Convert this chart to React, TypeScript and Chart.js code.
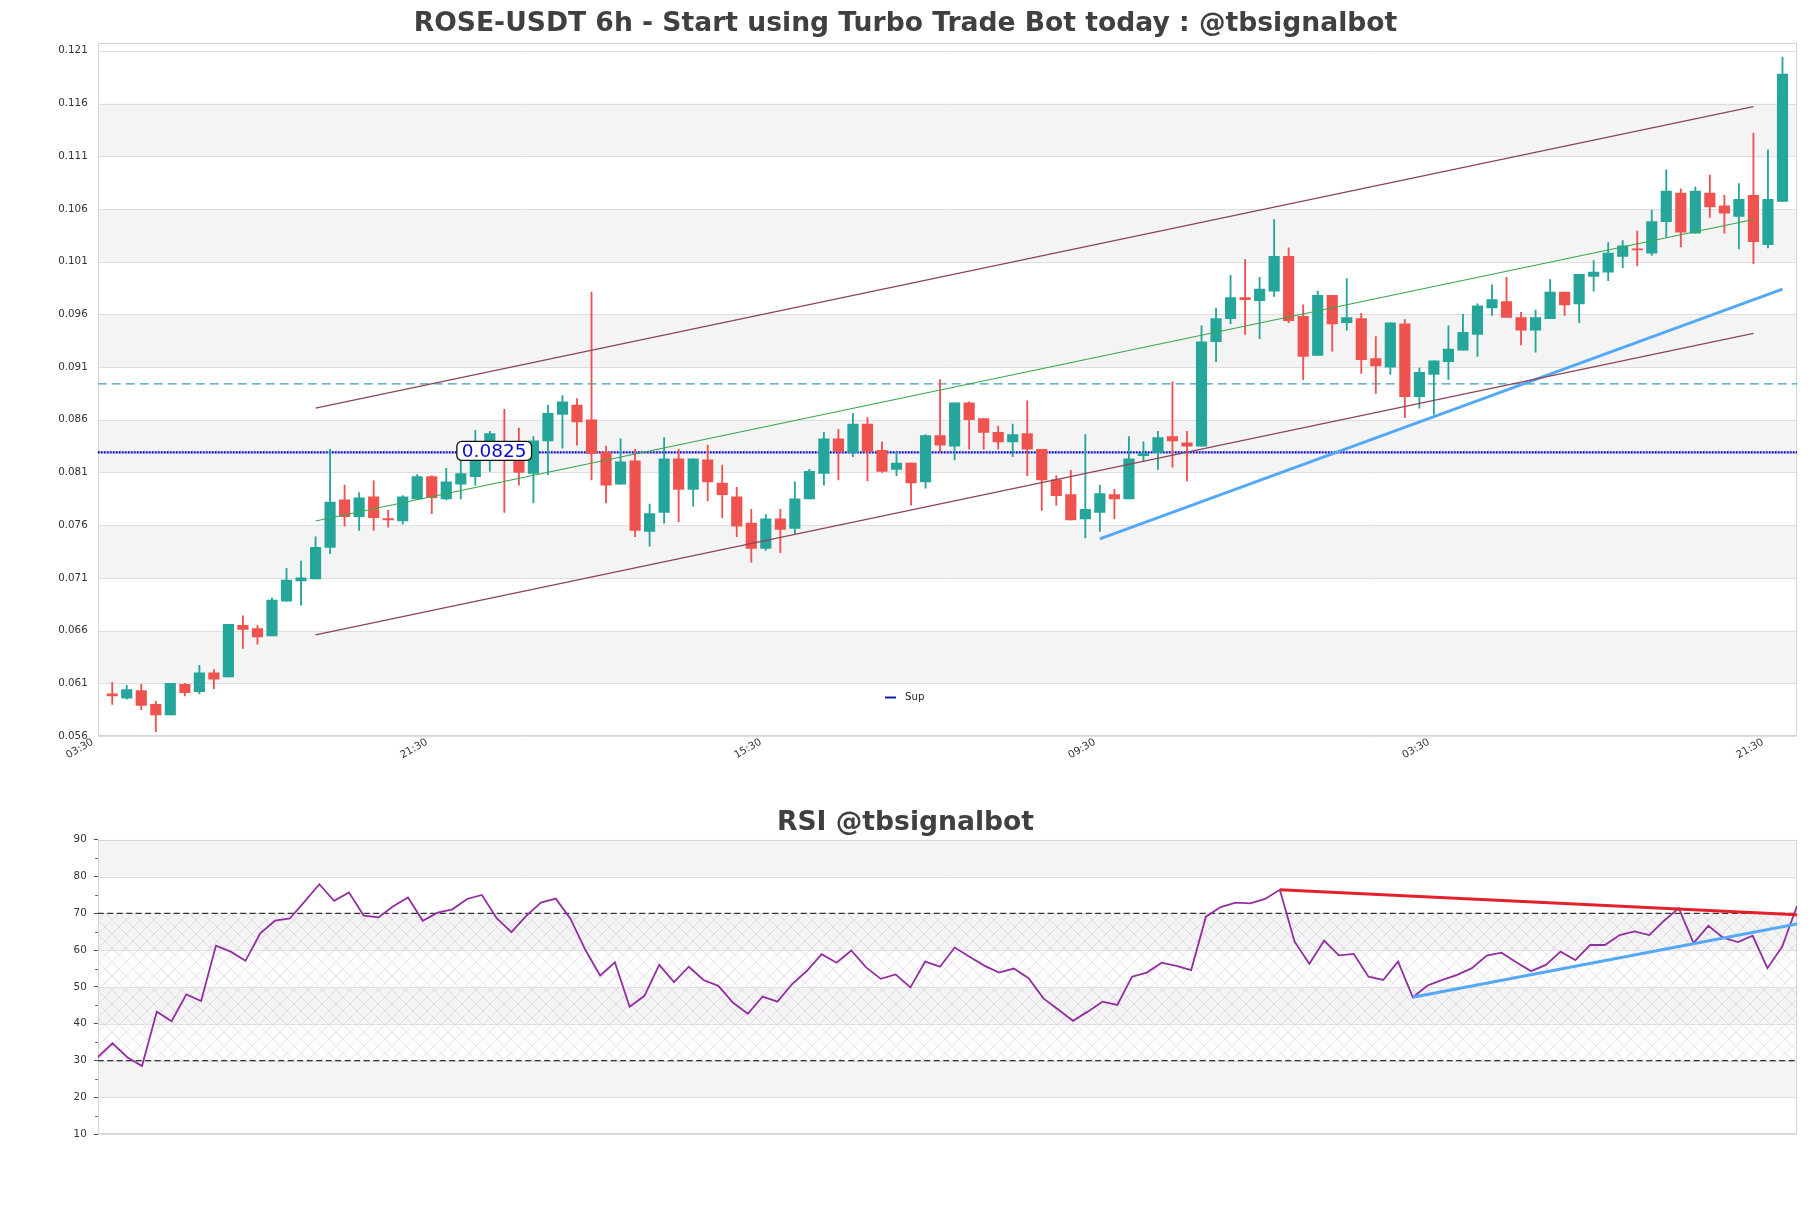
import React, { useEffect, useRef } from 'react';
import { Chart, registerables } from 'chart.js';

Chart.register(...registerables);

const FONT = "'DejaVu Sans', sans-serif";
const TITLE = 'ROSE-USDT 6h - Start using Turbo Trade Bot today : @tbsignalbot';
const RSI_TITLE = 'RSI @tbsignalbot';

// ---- candle data (6h candles, index 1..116) ----
const opens = [
  0.0600, 0.0596, 0.0603, 0.0590, 0.0580, 0.0609, 0.0602, 0.0620, 0.0616, 0.0665,
  0.0662, 0.0655, 0.0688, 0.0707, 0.0709, 0.0739, 0.0784, 0.0768, 0.0787, 0.0766,
  0.0764, 0.0785, 0.0806, 0.0785, 0.0799, 0.0806, 0.0830, 0.0823, 0.0822, 0.0809,
  0.0840, 0.0865, 0.0874, 0.0860, 0.0829, 0.0799, 0.0821, 0.0754, 0.0772, 0.0823,
  0.0794, 0.0822, 0.0800, 0.0787, 0.0762, 0.0738, 0.0766, 0.0757, 0.0785, 0.0809,
  0.0842, 0.0829, 0.0856, 0.0831, 0.0813, 0.0819, 0.0801, 0.0845, 0.0835, 0.0876,
  0.0861, 0.0848, 0.0839, 0.0847, 0.0832, 0.0803, 0.0789, 0.0766, 0.0772, 0.0789,
  0.0785, 0.0826, 0.0829, 0.0844, 0.0838, 0.0835, 0.0934, 0.0956, 0.0976, 0.0973,
  0.0982, 0.1015, 0.0958, 0.0921, 0.0978, 0.0952, 0.0956, 0.0918, 0.0910, 0.0951,
  0.0882, 0.0903, 0.0915, 0.0926, 0.0941, 0.0966, 0.0972, 0.0957, 0.0945, 0.0956,
  0.0981, 0.0970, 0.0996, 0.1000, 0.1015, 0.1022, 0.1018, 0.1048, 0.1075, 0.1037,
  0.1075, 0.1063, 0.1053, 0.1073, 0.1026, 0.1067,
];
const highs = [
  0.0611, 0.0608, 0.0609, 0.0593, 0.0610, 0.0610, 0.0627, 0.0623, 0.0666, 0.0674,
  0.0665, 0.0691, 0.0719, 0.0726, 0.0749, 0.0832, 0.0798, 0.0791, 0.0802, 0.0774,
  0.0788, 0.0808, 0.0807, 0.0814, 0.0822, 0.0850, 0.0849, 0.0870, 0.0852, 0.0844,
  0.0874, 0.0883, 0.0880, 0.0981, 0.0835, 0.0842, 0.0832, 0.0780, 0.0843, 0.0832,
  0.0823, 0.0836, 0.0817, 0.0796, 0.0775, 0.0770, 0.0775, 0.0801, 0.0813, 0.0848,
  0.0851, 0.0866, 0.0862, 0.0839, 0.0829, 0.0819, 0.0846, 0.0898, 0.0876, 0.0877,
  0.0861, 0.0854, 0.0856, 0.0878, 0.0832, 0.0807, 0.0812, 0.0846, 0.0798, 0.0794,
  0.0844, 0.0839, 0.0849, 0.0896, 0.0849, 0.0949, 0.0966, 0.0997, 0.1012, 0.0995,
  0.1050, 0.1023, 0.0969, 0.0982, 0.0978, 0.0994, 0.0961, 0.0939, 0.0952, 0.0955,
  0.0909, 0.0916, 0.0949, 0.0960, 0.0970, 0.0988, 0.0995, 0.0962, 0.0964, 0.0993,
  0.0981, 0.0998, 0.1011, 0.1028, 0.1030, 0.1039, 0.1059, 0.1097, 0.1079, 0.1081,
  0.1092, 0.1073, 0.1084, 0.1132, 0.1116, 0.1204,
];
const lows = [
  0.0590, 0.0595, 0.0585, 0.0564, 0.0580, 0.0598, 0.0600, 0.0605, 0.0616, 0.0643,
  0.0647, 0.0655, 0.0688, 0.0684, 0.0709, 0.0733, 0.0759, 0.0755, 0.0755, 0.0758,
  0.0761, 0.0785, 0.0771, 0.0784, 0.0785, 0.0798, 0.0811, 0.0772, 0.0798, 0.0781,
  0.0808, 0.0833, 0.0836, 0.0803, 0.0781, 0.0799, 0.0749, 0.0740, 0.0762, 0.0763,
  0.0778, 0.0783, 0.0767, 0.0749, 0.0725, 0.0736, 0.0734, 0.0751, 0.0785, 0.0798,
  0.0803, 0.0825, 0.0802, 0.0810, 0.0807, 0.0779, 0.0795, 0.0829, 0.0822, 0.0832,
  0.0832, 0.0832, 0.0825, 0.0807, 0.0774, 0.0779, 0.0765, 0.0748, 0.0754, 0.0766,
  0.0785, 0.0821, 0.0813, 0.0815, 0.0802, 0.0835, 0.0915, 0.0951, 0.0941, 0.0937,
  0.0977, 0.0952, 0.0898, 0.0921, 0.0925, 0.0945, 0.0904, 0.0885, 0.0903, 0.0862,
  0.0871, 0.0865, 0.0898, 0.0926, 0.0920, 0.0959, 0.0957, 0.0931, 0.0924, 0.0956,
  0.0959, 0.0952, 0.0982, 0.0992, 0.1004, 0.1006, 0.1016, 0.1033, 0.1024, 0.1037,
  0.1052, 0.1037, 0.1022, 0.1008, 0.1023, 0.1067,
];
const closes = [
  0.0598, 0.0604, 0.0589, 0.0580, 0.0610, 0.0601, 0.0620, 0.0614, 0.0666, 0.0661,
  0.0654, 0.0689, 0.0708, 0.0710, 0.0739, 0.0782, 0.0768, 0.0786, 0.0767, 0.0765,
  0.0787, 0.0806, 0.0786, 0.0801, 0.0809, 0.0823, 0.0847, 0.0822, 0.0810, 0.0840,
  0.0866, 0.0877, 0.0858, 0.0828, 0.0798, 0.0820, 0.0755, 0.0771, 0.0823, 0.0794,
  0.0823, 0.0801, 0.0789, 0.0759, 0.0738, 0.0766, 0.0756, 0.0785, 0.0811, 0.0842,
  0.0830, 0.0856, 0.0830, 0.0811, 0.0819, 0.0800, 0.0845, 0.0836, 0.0876, 0.0860,
  0.0848, 0.0839, 0.0846, 0.0832, 0.0803, 0.0788, 0.0765, 0.0775, 0.0790, 0.0785,
  0.0823, 0.0828, 0.0843, 0.0840, 0.0835, 0.0934, 0.0956, 0.0976, 0.0974, 0.0984,
  0.1015, 0.0954, 0.0920, 0.0978, 0.0951, 0.0957, 0.0917, 0.0911, 0.0952, 0.0882,
  0.0905, 0.0916, 0.0927, 0.0943, 0.0968, 0.0974, 0.0957, 0.0945, 0.0957, 0.0981,
  0.0969, 0.0998, 0.1000, 0.1018, 0.1025, 0.1021, 0.1048, 0.1077, 0.1038, 0.1077,
  0.1062, 0.1056, 0.1069, 0.1029, 0.1069, 0.1188,
];

// ---- overlays on price chart ([candle index, price]) ----
const channelUpper = [[15, 0.0871], [114, 0.1157]];
const channelLower = [[15, 0.0656], [114, 0.0942]];
const channelMid = [[15, 0.0764], [114, 0.1050]];
const trendSupport = [[69, 0.0747], [116, 0.0984]];
const supLevel = 0.0829;
const supLabel = '0.0825';
const dashedLevel = 0.0894;

// ---- axes ----
const priceTicks = [0.056, 0.061, 0.066, 0.071, 0.076, 0.081, 0.086, 0.091, 0.096, 0.101, 0.106, 0.111, 0.116, 0.121];
const xTickPos = [0, 23, 46, 69, 92, 115];
const xTickLabels = ['03:30', '21:30', '15:30', '09:30', '03:30', '21:30'];

// ---- RSI ----
const rsiValues = [
  30.9, 34.7, 30.9, 28.5, 43.3, 40.7, 48.0, 46.2, 61.2, 59.6,
  57.1, 64.6, 68.0, 68.6, 73.2, 77.9, 73.4, 75.7, 69.4, 68.9,
  71.9, 74.3, 68.0, 70.2, 71.1, 73.9, 75.0, 68.7, 64.9, 69.3,
  72.9, 74.0, 68.5, 60.1, 53.1, 56.7, 44.6, 47.6, 56.0, 51.3,
  55.5, 51.9, 50.3, 45.7, 42.7, 47.4, 46.0, 50.8, 54.4, 58.9,
  56.6, 59.9, 55.3, 52.2, 53.4, 49.9, 56.9, 55.5, 60.7, 58.2,
  55.8, 53.9, 55.0, 52.4, 46.9, 43.9, 40.8, 43.3, 46.0, 45.1,
  52.8, 53.9, 56.6, 55.7, 54.6, 69.1, 71.7, 72.9, 72.7, 73.9,
  76.4, 62.3, 56.3, 62.6, 58.6, 59.0, 52.8, 51.9, 56.9, 47.2,
  50.4, 51.9, 53.3, 55.1, 58.5, 59.3, 56.7, 54.3, 56.0, 59.6,
  57.3, 61.4, 61.4, 64.1, 65.1, 64.1, 68.0, 71.4, 61.9, 66.6,
  63.4, 62.2, 63.9, 55.1, 61.0, 72.0,
];
const rsiDownTrend = [[80, 76.4], [115, 69.6]];
const rsiUpTrend = [[89, 47.2], [115, 67.1]];
const rsiUpper = 70;
const rsiLower = 30;
const rsiTicks = [10, 15, 20, 25, 30, 35, 40, 45, 50, 55, 60, 65, 70, 75, 80, 85, 90];
const rsiMajor = [10, 20, 30, 40, 50, 60, 70, 80, 90];

const GREEN = '#26a69a';
const RED = '#ef5350';

const pts = (arr: number[][]) => arr.map(([x, y]) => ({ x, y }));

// invisible right-hand axis that reserves the right margin (keeps titles centred on the full canvas)
const rightSpacer = {
  type: 'linear',
  position: 'right',
  display: true,
  grid: { display: false, drawTicks: false, tickLength: 0 },
  border: { display: false },
  ticks: { display: false },
  afterFit: (s: any) => {
    s.width = 14;
  },
};

function makeHatch(ctx: CanvasRenderingContext2D) {
  const c = document.createElement('canvas');
  c.width = 14;
  c.height = 14;
  const g = c.getContext('2d')!;
  g.strokeStyle = 'rgba(150,110,175,0.22)';
  g.lineWidth = 0.9;
  g.beginPath();
  g.moveTo(0, 0);
  g.lineTo(14, 14);
  g.moveTo(14, 0);
  g.lineTo(0, 14);
  g.stroke();
  return ctx.createPattern(c, 'repeat');
}

function bandsPlugin(bandTicks: number[], hatch?: number[]) {
  return {
    id: 'bands',
    beforeDraw(chart: any) {
      const { ctx, chartArea: a } = chart;
      const ys = chart.scales.y;
      ctx.save();
      ctx.fillStyle = '#ffffff';
      ctx.fillRect(0, 0, chart.width, chart.height);
      for (let k = 0; k < bandTicks.length - 1; k++) {
        if (k % 2 === 1) {
          const y1 = ys.getPixelForValue(bandTicks[k]);
          const y2 = ys.getPixelForValue(bandTicks[k + 1]);
          ctx.fillStyle = '#f4f4f4';
          ctx.fillRect(a.left, y2, a.right - a.left, y1 - y2);
        }
      }
      if (hatch) {
        const p = makeHatch(ctx);
        if (p) {
          const y1 = ys.getPixelForValue(hatch[0]);
          const y2 = ys.getPixelForValue(hatch[1]);
          ctx.fillStyle = p;
          ctx.fillRect(a.left, y2, a.right - a.left, y1 - y2);
        }
      }
      ctx.strokeStyle = '#dedede';
      ctx.lineWidth = 1;
      bandTicks.forEach((v) => {
        const py = Math.round(ys.getPixelForValue(v)) + 0.5;
        ctx.beginPath();
        ctx.moveTo(a.left, py);
        ctx.lineTo(a.right, py);
        ctx.stroke();
      });
      ctx.restore();
    },
    beforeDatasetsDraw(chart: any) {
      const { ctx, chartArea: a } = chart;
      ctx.save();
      ctx.strokeStyle = '#d4d4d4';
      ctx.lineWidth = 1;
      ctx.strokeRect(Math.round(a.left) + 0.5, Math.round(a.top) + 0.5, Math.round(a.right - a.left) - 1, Math.round(a.bottom - a.top) - 1);
      ctx.restore();
    },
  };
}

const supLabelPlugin = {
  id: 'supLabel',
  afterDatasetsDraw(chart: any) {
    const { ctx } = chart;
    const cx = chart.scales.x.getPixelForValue(27.3);
    const cy = chart.scales.y.getPixelForValue(supLevel) - 1.5;
    ctx.save();
    ctx.font = `18.5px ${FONT}`;
    const w = ctx.measureText(supLabel).width + 10;
    const h = 19;
    const x0 = cx - w / 2;
    const y0 = cy - h / 2;
    ctx.beginPath();
    (ctx as any).roundRect(x0, y0, w, h, 5);
    ctx.fillStyle = '#ffffff';
    ctx.fill();
    ctx.lineWidth = 1.3;
    ctx.strokeStyle = '#111111';
    ctx.stroke();
    ctx.fillStyle = '#0a0ad0';
    ctx.textAlign = 'center';
    ctx.textBaseline = 'middle';
    ctx.fillText(supLabel, cx, cy + 1);
    ctx.restore();
  },
};

const legendPlugin = {
  id: 'supLegend',
  afterDraw(chart: any) {
    const { ctx } = chart;
    ctx.save();
    ctx.strokeStyle = '#1a1ab0';
    ctx.lineWidth = 2;
    ctx.beginPath();
    ctx.moveTo(885, 697.5);
    ctx.lineTo(896, 697.5);
    ctx.stroke();
    ctx.fillStyle = '#222222';
    ctx.font = `10.3px ${FONT}`;
    ctx.textBaseline = 'middle';
    ctx.fillText('Sup', 905, 697);
    ctx.restore();
  },
};

const minorTickPlugin = {
  id: 'minorTicks',
  afterDraw(chart: any) {
    const { ctx, chartArea: a } = chart;
    const ys = chart.scales.y;
    ctx.save();
    ctx.strokeStyle = '#555555';
    ctx.lineWidth = 1;
    rsiTicks.filter((v) => !rsiMajor.includes(v)).forEach((v) => {
      const py = Math.round(ys.getPixelForValue(v)) + 0.5;
      ctx.beginPath();
      ctx.moveTo(a.left - 2.5, py);
      ctx.lineTo(a.left, py);
      ctx.stroke();
    });
    ctx.restore();
  },
};

function PriceChart() {
  const ref = useRef<HTMLCanvasElement>(null);
  useEffect(() => {
    const bodies = opens.map((o, i) => ({ x: i + 1, y: [Math.min(o, closes[i]), Math.max(o, closes[i])] }));
    const wicks = opens.map((_, i) => ({ x: i + 1, y: [lows[i], highs[i]] }));
    const colors = opens.map((o, i) => (closes[i] >= o ? GREEN : RED));
    const line = (data: any[], color: string, width: number, order: number, dash: number[] = []) => ({
      type: 'line' as const,
      data,
      borderColor: color,
      borderWidth: width,
      borderDash: dash,
      pointRadius: 0,
      fill: false,
      order,
    });
    const chart = new Chart(ref.current!, {
      type: 'bar',
      data: {
        datasets: [
          { label: 'Upper', ...line(pts(channelUpper), '#8b4557', 1.2, 0) },
          { label: 'Lower', ...line(pts(channelLower), '#8b4557', 1.2, 0) },
          { label: 'Mid', ...line(pts(channelMid), '#3aa64a', 1.1, 0) },
          { label: 'Trend', ...line(pts(trendSupport), '#55a8f5', 3, 0) },
          {
            type: 'bar',
            label: 'Bodies',
            data: bodies as any,
            backgroundColor: colors,
            borderWidth: 0,
            barThickness: 10.5,
            grouped: false,
            minBarLength: 1.2,
            order: 1,
          },
          {
            type: 'bar',
            label: 'Wicks',
            data: wicks as any,
            backgroundColor: colors,
            borderWidth: 0,
            barThickness: 1.2,
            grouped: false,
            order: 2,
          },
          { label: 'Sup', ...line([{ x: 0, y: supLevel }, { x: 117, y: supLevel }], '#0a0acc', 2.2, 3, [2, 1]) },
          { label: 'Level', ...line([{ x: 0, y: dashedLevel }, { x: 117, y: dashedLevel }], '#3a9fc4', 1.3, 3, [9, 5]) },
        ] as any,
      },
      options: {
        animation: false,
        responsive: false,
        maintainAspectRatio: false,
        events: [],
        layout: { padding: 0 },
        plugins: {
          legend: { display: false },
          tooltip: { enabled: false },
          title: {
            display: true,
            text: TITLE,
            color: '#404040',
            font: { family: FONT, size: 26.6, weight: 'bold' },
            padding: { top: 8.5, bottom: 3 },
          },
        },
        scales: {
          x: {
            type: 'linear',
            min: 0,
            max: 117,
            offset: false,
            grid: { display: false, drawTicks: false, tickLength: 0, offset: false },
            border: { display: false },
            afterBuildTicks: (s: any) => {
              s.ticks = xTickPos.map((v) => ({ value: v }));
            },
            ticks: {
              autoSkip: false,
              minRotation: 30,
              maxRotation: 30,
              padding: 0,
              labelOffset: -5,
              color: '#333333',
              font: { family: FONT, size: 10.3 },
              callback: (v: any) => {
                const k = xTickPos.indexOf(Number(v));
                return k >= 0 ? xTickLabels[k] : '';
              },
            },
            afterFit: (s: any) => {
              s.height = 44;
            },
          },
          y: {
            type: 'linear',
            min: 0.056,
            max: 0.1217,
            grid: { display: false, drawTicks: false, tickLength: 0 },
            border: { display: false },
            afterBuildTicks: (s: any) => {
              s.ticks = priceTicks.map((v) => ({ value: v }));
            },
            ticks: {
              padding: 10,
              color: '#333333',
              font: { family: FONT, size: 10.3 },
              callback: (v: any) => Number(v).toFixed(3),
            },
            afterFit: (s: any) => {
              s.width = 97.7;
            },
          },
          yRight: { ...rightSpacer, min: 0.056, max: 0.1217 },
        },
      } as any,
      plugins: [bandsPlugin(priceTicks), supLabelPlugin, legendPlugin],
    });
    return () => chart.destroy();
  }, []);
  return <canvas ref={ref} width={1811} height={780} style={{ display: 'block' }} />;
}

function RsiChart() {
  const ref = useRef<HTMLCanvasElement>(null);
  useEffect(() => {
    const line = (data: any[], color: string, width: number, order: number, dash: number[] = []) => ({
      data,
      borderColor: color,
      borderWidth: width,
      borderDash: dash,
      pointRadius: 0,
      fill: false,
      order,
    });
    const chart = new Chart(ref.current!, {
      type: 'line',
      data: {
        datasets: [
          { label: 'RSI down', ...line(pts(rsiDownTrend), '#e4202a', 3, 0) },
          { label: 'RSI up', ...line(pts(rsiUpTrend), '#55a8f5', 3, 0) },
          { label: 'RSI', ...line(rsiValues.map((v, j) => ({ x: j, y: v })), '#922f9f', 1.8, 1) },
          { label: '70', ...line([{ x: 0, y: rsiUpper }, { x: 115, y: rsiUpper }], '#333333', 1.3, 2, [6, 3.5]) },
          { label: '30', ...line([{ x: 0, y: rsiLower }, { x: 115, y: rsiLower }], '#333333', 1.3, 2, [6, 3.5]) },
        ] as any,
      },
      options: {
        animation: false,
        responsive: false,
        maintainAspectRatio: false,
        events: [],
        layout: { padding: { left: 0, right: 0, top: 0, bottom: 73.8 } },
        plugins: {
          legend: { display: false },
          tooltip: { enabled: false },
          title: {
            display: true,
            text: RSI_TITLE,
            color: '#404040',
            font: { family: FONT, size: 26.6, weight: 'bold' },
            padding: { top: 27, bottom: 0.8 },
          },
        },
        scales: {
          x: { type: 'linear', min: 0, max: 115, display: false },
          y: {
            type: 'linear',
            min: 10,
            max: 90,
            grid: {
              display: true,
              drawOnChartArea: false,
              drawTicks: true,
              tickLength: 4,
              tickColor: (c: any) => (c.tick && rsiMajor.includes(c.tick.value) ? '#555555' : 'rgba(0,0,0,0)'),
            },
            border: { display: false },
            afterBuildTicks: (s: any) => {
              s.ticks = rsiTicks.map((v) => ({ value: v }));
            },
            ticks: {
              padding: 7,
              color: '#333333',
              font: { family: FONT, size: 10.3 },
              callback: (v: any) => (rsiMajor.includes(Number(v)) ? String(v) : ''),
            },
            afterFit: (s: any) => {
              s.width = 97.7;
            },
          },
          yRight: { ...rightSpacer, min: 10, max: 90 },
        },
      } as any,
      plugins: [bandsPlugin(rsiMajor, [rsiLower, rsiUpper]), minorTickPlugin],
    });
    return () => chart.destroy();
  }, []);
  return <canvas ref={ref} width={1811} height={428} style={{ display: 'block' }} />;
}

export default function App() {
  return (
    <div style={{ position: 'fixed', left: 0, top: 0, width: 1811, height: 1208, background: '#ffffff' }}>
      <PriceChart />
      <RsiChart />
    </div>
  );
}
